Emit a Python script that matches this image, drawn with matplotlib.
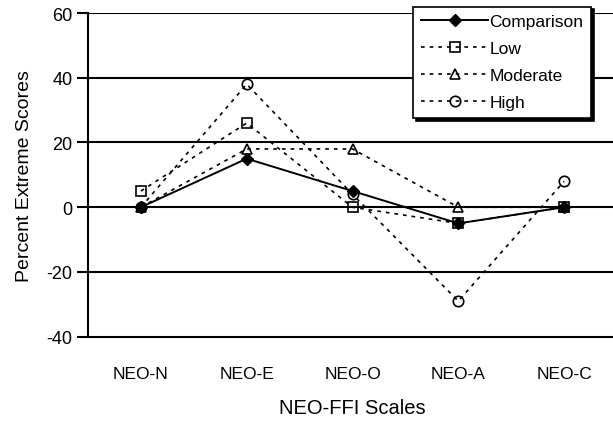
import matplotlib
matplotlib.use("Agg")
from matplotlib import pyplot as plt

plt.rcParams['font.family'] = ['Liberation Sans', 'DejaVu Sans']
plt.rcParams['axes.unicode_minus'] = False

scales = ['NEO-N', 'NEO-E', 'NEO-O', 'NEO-A', 'NEO-C']
comparison = [0, 15, 5, -5, 0]
low = [5, 26, 0, -5, 0]
moderate = [0, 18, 18, 0, 0]
high = [0, 38, 4, -29, 8]

fig = plt.figure(figsize=(6.13, 4.27), dpi=100)
ax = fig.add_axes([88 / 613, 1 - 337.7 / 427, 529 / 613, 323.7 / 427])

x = range(len(scales))
dots = (0, (2.2, 3))
ax.plot(x, low, color='black', lw=1.2, linestyle=dots, marker='s', ms=7.5,
        mfc='none', mec='black', mew=1.2, label='Low', zorder=3)
ax.plot(x, moderate, color='black', lw=1.2, linestyle=dots, marker='^', ms=7.5,
        mfc='none', mec='black', mew=1.2, label='Moderate', zorder=3)
ax.plot(x, high, color='black', lw=1.2, linestyle=dots, marker='o', ms=7.5,
        mfc='none', mec='black', mew=1.2, label='High', zorder=3)
ax.plot(x, comparison, color='black', lw=1.4, marker='D', ms=6.5,
        mfc='black', mec='black', label='Comparison', zorder=4)

ax.set_xlim(-0.5, 4.5)
ax.set_ylim(-40, 60)
ax.set_yticks([-40, -20, 0, 20, 40, 60])
ax.set_xticks(list(x))
ax.set_xticklabels(scales, fontsize=12.5)
ax.tick_params(axis='y', labelsize=13, direction='out', length=8, width=1.5, pad=3)
ax.tick_params(axis='x', length=0, pad=21)
for v in [-20, 0, 20, 40, 60]:
    ax.axhline(v, color='black', lw=1.5, zorder=1)
for side in ['top', 'right']:
    ax.spines[side].set_visible(False)
ax.spines['left'].set_linewidth(1.5)
ax.spines['bottom'].set_linewidth(1.5)

ax.set_ylabel('Percent Extreme Scores', fontsize=14, labelpad=10)
ax.set_xlabel('NEO-FFI Scales', fontsize=14.5, labelpad=12)

handles, labels = ax.get_legend_handles_labels()
order = [3, 0, 1, 2]
leg = ax.legend([handles[i] for i in order], [labels[i] for i in order],
                loc='upper right', bbox_to_anchor=(0.951, 1.02), borderaxespad=0,
                fontsize=12.5, handlelength=3.9, handletextpad=0.05, labelspacing=0.68,
                fancybox=False, shadow={'color': 'black', 'alpha': 1}, framealpha=1,
                edgecolor='black', borderpad=0.45)
leg.get_frame().set_linewidth(1.2)
leg.set_zorder(10)

fig.savefig('out.png', dpi=100)
